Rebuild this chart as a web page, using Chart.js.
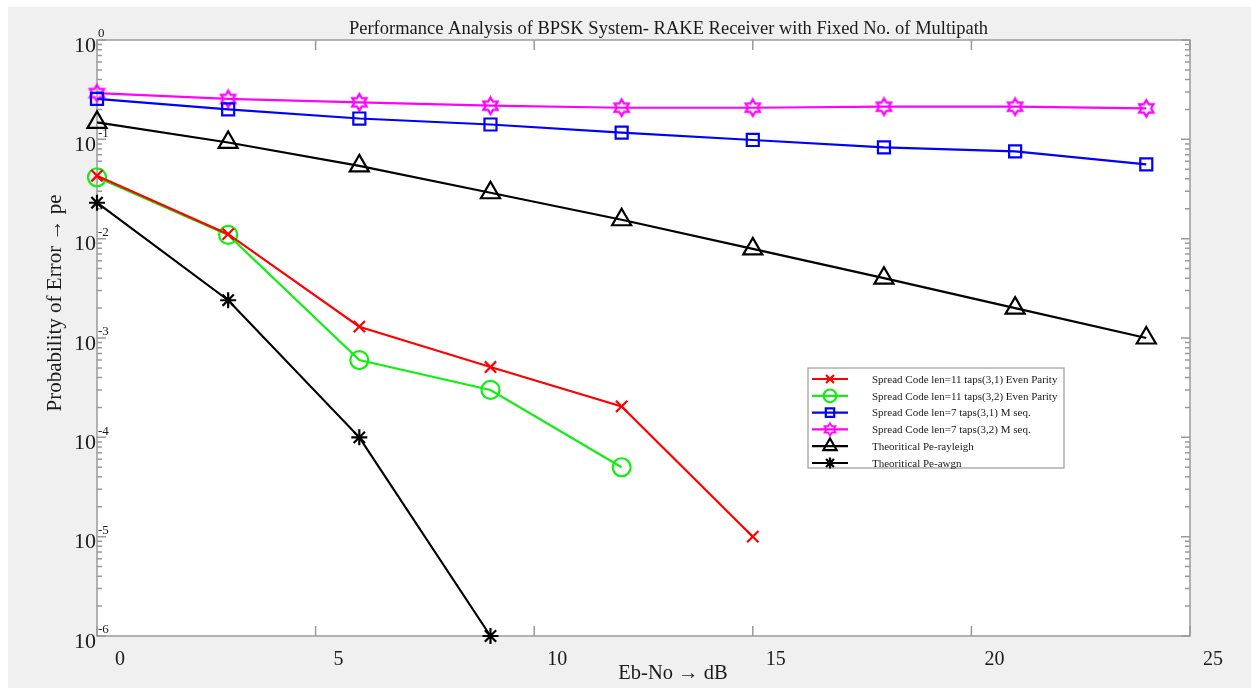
<!DOCTYPE html>
<html>
<head>
<meta charset="utf-8">
<script src="https://cdn.jsdelivr.net/npm/chart.js@4.4.1/dist/chart.umd.min.js"></script>
<style>
  html, body { margin: 0; padding: 0; background: #fff; overflow: hidden; }
</style>
</head>
<body>
<canvas id="berChart" width="1251" height="688"></canvas>
<script>
// Eb/No (dB) sample points
const ebno = [0, 3, 6, 9, 12, 15, 18, 21, 24];

// probability of error
const peLen11Taps31 = [0.043, 0.0111, 0.0013, 0.00051, 0.000205, 0.00001];
const peLen11Taps32 = [0.0415, 0.0109, 0.0006, 0.0003, 0.00005];
const peLen7Taps31 = [0.255, 0.2, 0.162, 0.141, 0.117, 0.0985, 0.083, 0.0755, 0.056];
const peLen7Taps32 = [0.292, 0.255, 0.236, 0.218, 0.208, 0.208, 0.213, 0.213, 0.205];
const peRayleigh = [0.148, 0.093, 0.054, 0.029, 0.0155, 0.0079, 0.004, 0.002, 0.001];
const peAwgn = [0.023, 0.0024, 0.0001, 0.000001];

const seriesLabels = [
  'Spread Code len=11 taps(3,1) Even Parity',
  'Spread Code len=11 taps(3,2) Even Parity',
  'Spread Code len=7 taps(3,1) M seq.',
  'Spread Code len=7 taps(3,2) M seq.',
  'Theoritical Pe-rayleigh',
  'Theoritical Pe-awgn'
];

// axis ticks
const xTicks = [0, 5, 10, 15, 20, 25];
const yExponents = [0, -1, -2, -3, -4, -5, -6];

const serif = "'Liberation Serif', 'Times New Roman', serif";

function makeHexagram(size, color, lw) {
  const c = document.createElement('canvas');
  c.width = c.height = size;
  const g = c.getContext('2d');
  const R = size / 2 - lw, r = R / Math.sqrt(3);
  g.strokeStyle = color;
  g.lineWidth = lw;
  g.beginPath();
  for (let k = 0; k < 12; k++) {
    const ang = -Math.PI / 2 + k * Math.PI / 6;
    const rr = k % 2 ? r : R;
    const px = size / 2 + rr * Math.cos(ang), py = size / 2 + rr * Math.sin(ang);
    if (k) g.lineTo(px, py); else g.moveTo(px, py);
  }
  g.closePath();
  g.stroke();
  return c;
}

const hexBig = makeHexagram(21, '#ff00ff', 2.2);

function pts(values) {
  return values.map((v, i) => ({ x: ebno[i], y: v }));
}

function series(label, values, color, style, radius) {
  return {
    label: label,
    data: pts(values),
    borderColor: color,
    backgroundColor: 'rgba(0,0,0,0)',
    pointBorderColor: color,
    pointBackgroundColor: 'rgba(0,0,0,0)',
    pointStyle: style,
    pointRadius: radius,
    pointHoverRadius: radius,
    pointBorderWidth: 2.2,
    borderWidth: 2.2,
    tension: 0,
    fill: false,
    clip: false
  };
}

const frame = {
  id: 'frame',
  beforeDraw(chart) {
    const { ctx, chartArea: a } = chart;
    ctx.save();
    ctx.fillStyle = '#f0f0f0';
    ctx.fillRect(8, 7, chart.width - 8, chart.height - 7);
    ctx.fillStyle = '#fff';
    ctx.fillRect(a.left, a.top, a.right - a.left, a.bottom - a.top);
    ctx.restore();
  },
  beforeDatasetsDraw(chart) {
    const { ctx, chartArea: a, scales } = chart;
    const xs = scales.x, ys = scales.y;
    ctx.save();
    ctx.strokeStyle = '#9a9a9a';
    ctx.lineWidth = 1.5;
    ctx.strokeRect(a.left, a.top, a.right - a.left, a.bottom - a.top);
    ctx.beginPath();
    // y ticks, inward on both sides
    yExponents.forEach(e => {
      const y = ys.getPixelForValue(Math.pow(10, e));
      ctx.moveTo(a.left, y); ctx.lineTo(a.left + 9, y);
      ctx.moveTo(a.right, y); ctx.lineTo(a.right - 9, y);
      if (e < 0) {
        for (let m = 2; m <= 9; m++) {
          const ym = ys.getPixelForValue(m * Math.pow(10, e));
          ctx.moveTo(a.left, ym); ctx.lineTo(a.left + 5, ym);
          ctx.moveTo(a.right, ym); ctx.lineTo(a.right - 5, ym);
        }
      }
    });
    // x ticks, top and bottom
    xTicks.forEach(t => {
      const x = xs.getPixelForValue(t);
      ctx.moveTo(x, a.bottom); ctx.lineTo(x, a.bottom - 10);
      ctx.moveTo(x, a.top); ctx.lineTo(x, a.top + 10);
    });
    ctx.stroke();
    ctx.restore();
  },
  afterDraw(chart) {
    const { ctx, chartArea: a, scales } = chart;
    const xs = scales.x, ys = scales.y;
    ctx.save();
    ctx.fillStyle = '#1a1a1a';

    // title
    ctx.font = '18.5px ' + serif;
    ctx.textAlign = 'center';
    ctx.textBaseline = 'middle';
    ctx.fillText('Performance Analysis of BPSK System- RAKE Receiver with Fixed No. of Multipath', (a.left + a.right) / 2 + 25, 29);

    // y tick labels 10^e
    yExponents.forEach(e => {
      const y = ys.getPixelForValue(Math.pow(10, e));
      ctx.font = '22px ' + serif;
      ctx.textAlign = 'right';
      ctx.fillText('10', a.left - 1, y + 6);
      ctx.font = '13px ' + serif;
      ctx.textAlign = 'left';
      ctx.fillText(String(e), a.left + 1, y - 6);
    });

    // x tick labels (shifted right as in the original)
    ctx.font = '20px ' + serif;
    ctx.textAlign = 'center';
    xTicks.forEach(t => {
      ctx.fillText(String(t), xs.getPixelForValue(t) + 23, a.bottom + 24);
    });

    // axis titles
    ctx.font = '20.5px ' + serif;
    ctx.fillText('Eb-No \u2192 dB', 673, a.bottom + 38);
    ctx.save();
    ctx.translate(55, 303);
    ctx.rotate(-Math.PI / 2);
    ctx.font = '21px ' + serif;
    ctx.fillText('Probability of Error \u2192 pe', 0, 0);
    ctx.restore();

    // legend
    const box = { x: 808, y: 368, w: 256, h: 100 };
    ctx.fillStyle = '#fff';
    ctx.fillRect(box.x, box.y, box.w, box.h);
    ctx.strokeStyle = '#9a9a9a';
    ctx.lineWidth = 1.2;
    ctx.strokeRect(box.x, box.y, box.w, box.h);
    ctx.font = '11px ' + serif;
    ctx.textAlign = 'left';
    chart.data.datasets.forEach((ds, i) => {
      const ry = box.y + 11 + i * 16.8;
      ctx.strokeStyle = ds.borderColor;
      ctx.lineWidth = 2.2;
      ctx.beginPath();
      ctx.moveTo(box.x + 4, ry);
      ctx.lineTo(box.x + 40, ry);
      ctx.stroke();
      const cx = box.x + 22;
      if (ds.pointStyle instanceof HTMLCanvasElement) {
        ctx.drawImage(ds.pointStyle, cx - 8, ry - 8, 16, 16);
      } else {
        ctx.fillStyle = 'rgba(0,0,0,0)';
        Chart.helpers.drawPoint(ctx, {
          pointStyle: ds.pointStyle, radius: ds.pointRadius * 0.7, rotation: 0, borderWidth: 2.2
        }, cx, ry);
      }
      ctx.fillStyle = '#1a1a1a';
      ctx.fillText(ds.label, box.x + 64, ry + 1);
    });
    ctx.restore();
  }
};

new Chart(document.getElementById('berChart').getContext('2d'), {
  type: 'line',
  data: {
    datasets: [
      series(seriesLabels[0], peLen11Taps31, '#ff0000', 'crossRot', 8),
      series(seriesLabels[1], peLen11Taps32, '#11ee11', 'circle', 9),
      series(seriesLabels[2], peLen7Taps31, '#0000ff', 'rect', 8.5),
      series(seriesLabels[3], peLen7Taps32, '#ff00ff', hexBig, 10),
      series(seriesLabels[4], peRayleigh, '#000000', 'triangle', 11),
      series(seriesLabels[5], peAwgn, '#000000', 'star', 8)
    ]
  },
  options: {
    responsive: false,
    animation: false,
    layout: { padding: { left: 97, top: 40, right: 61, bottom: 52 } },
    scales: {
      x: { type: 'linear', min: 0, max: 25, display: false },
      y: { type: 'logarithmic', min: 1e-6, max: 1, display: false }
    },
    plugins: {
      legend: { display: false },
      title: { display: false },
      tooltip: { enabled: false }
    }
  },
  plugins: [frame]
});
</script>
</body>
</html>
